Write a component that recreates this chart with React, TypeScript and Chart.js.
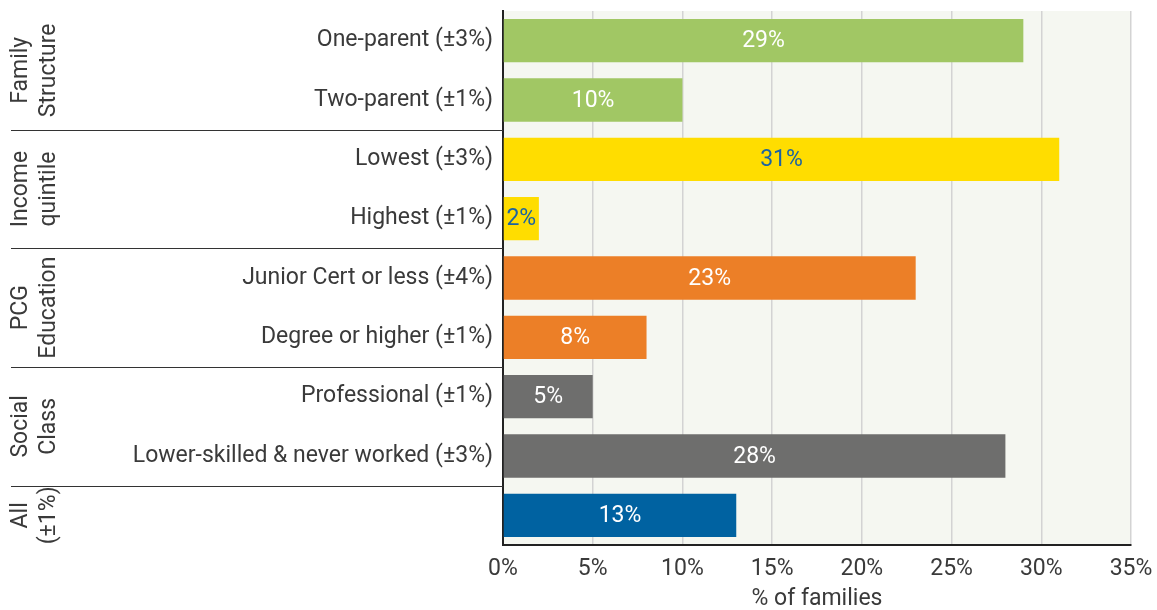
import React, { useEffect, useRef } from 'react';
import { Chart, registerables } from 'chart.js';

Chart.register(...registerables);

const categories = [
  'One-parent (±3%)',
  'Two-parent (±1%)',
  'Lowest (±3%)',
  'Highest (±1%)',
  'Junior Cert or less (±4%)',
  'Degree or higher (±1%)',
  'Professional (±1%)',
  'Lower-skilled & never worked (±3%)',
  '',
];
const values = [29, 10, 31, 2, 23, 8, 5, 28, 13];
const barColors = [
  '#a1c764', '#a1c764',
  '#ffdd00', '#ffdd00',
  '#ec7f27', '#ec7f27',
  '#6e6e6d', '#6e6e6d',
  '#0062a1',
];
const valueLabelColors = [
  '#ffffff', '#ffffff',
  '#1b63a2', '#1b63a2',
  '#ffffff', '#ffffff',
  '#ffffff', '#ffffff',
  '#ffffff',
];
const groupNames = [
  ['Family', 'Structure'],
  ['Income', 'quintile'],
  ['PCG', 'Education'],
  ['Social', 'Class'],
  ['All', '(±1%)'],
];
const groupSizes = [2, 2, 2, 2, 1];
const xMin = 0;
const xMax = 35;
const xStep = 5;
const xTitle = '% of families';

const FONT = 'Roboto';
const FONT_SIZE = 23;
const TEXT = '#3a3a3a';

const decorPlugin = {
  id: 'decor',
  beforeDraw(chart: any) {
    const { ctx, chartArea } = chart;
    ctx.save();
    ctx.fillStyle = '#f5f7f1';
    ctx.fillRect(chartArea.left, chartArea.top, chartArea.right - chartArea.left, chartArea.bottom - chartArea.top);
    ctx.restore();
  },
  afterDraw(chart: any) {
    const { ctx, chartArea } = chart;
    const y = chart.scales.y;
    const half = (y.getPixelForValue(1) - y.getPixelForValue(0)) / 2;
    let idx = 0;
    groupNames.forEach((lines, g) => {
      const start = idx;
      const end = idx + groupSizes[g] - 1;
      idx += groupSizes[g];
      const top = y.getPixelForValue(start) - half;
      const bottom = y.getPixelForValue(end) + half;
      if (g < groupNames.length - 1) {
        ctx.save();
        ctx.strokeStyle = '#333333';
        ctx.lineWidth = 1.2;
        ctx.beginPath();
        ctx.moveTo(11, Math.round(bottom) + 0.5);
        ctx.lineTo(chartArea.left, Math.round(bottom) + 0.5);
        ctx.stroke();
        ctx.restore();
      }
      const cy = (top + bottom) / 2;
      ctx.save();
      ctx.translate(0, cy);
      ctx.rotate(-Math.PI / 2);
      ctx.textAlign = 'center';
      ctx.textBaseline = 'middle';
      ctx.font = `${FONT_SIZE}px ${FONT}`;
      ctx.fillStyle = TEXT;
      lines.forEach((t, i) => ctx.fillText(t, 0, 21 + i * 28));
      ctx.restore();
    });

    const meta = chart.getDatasetMeta(0);
    ctx.save();
    ctx.font = `${FONT_SIZE}px ${FONT}`;
    ctx.textAlign = 'center';
    ctx.textBaseline = 'middle';
    meta.data.forEach((el: any, i: number) => {
      const cx = (el.base + el.x) / 2;
      ctx.fillStyle = valueLabelColors[i];
      ctx.fillText(values[i] + '%', cx, el.y + 1);
    });
    ctx.restore();
  },
};

export default function App() {
  const ref = useRef<HTMLCanvasElement | null>(null);
  useEffect(() => {
    document.body.style.margin = '0';
    const canvas = ref.current;
    if (!canvas) return;
    const chart = new Chart(canvas, {
      type: 'bar',
      data: {
        labels: categories,
        datasets: [
          {
            data: values,
            backgroundColor: barColors,
            borderWidth: 0,
            barPercentage: 0.73,
            categoryPercentage: 1,
          },
        ],
      },
      options: {
        indexAxis: 'y',
        animation: false,
        responsive: false,
        layout: { padding: { top: 11, right: 26, left: 0, bottom: 0 } },
        plugins: { legend: { display: false }, tooltip: { enabled: false } },
        scales: {
          x: {
            min: xMin,
            max: xMax,
            ticks: {
              stepSize: xStep,
              callback: (v: any) => v + '%',
              color: TEXT,
              font: { family: FONT, size: FONT_SIZE },
              padding: 10,
            },
            grid: { color: '#d3d3d3', lineWidth: 1.5, drawTicks: false },
            border: { color: '#222222', width: 2 },
            title: {
              display: true,
              text: xTitle,
              color: TEXT,
              font: { family: FONT, size: FONT_SIZE },
              padding: 0,
            },
            afterFit: (s: any) => {
              s.height = 68;
              s.paddingLeft = 0;
              s.paddingRight = 0;
            },
          },
          y: {
            ticks: {
              color: TEXT,
              font: { family: FONT, size: FONT_SIZE },
              padding: 10,
              autoSkip: false,
            },
            grid: { display: false, drawTicks: false },
            border: { color: '#222222', width: 2 },
            afterFit: (s: any) => {
              s.width = 503;
              s.paddingTop = 0;
              s.paddingBottom = 0;
            },
          },
        },
      },
      plugins: [decorPlugin],
    });
    return () => chart.destroy();
  }, []);
  return (
    <div style={{ position: 'fixed', left: 0, top: 0, width: 1157, height: 613, overflow: 'hidden', background: '#ffffff' }}>
      <canvas ref={ref} width={1157} height={613} />
    </div>
  );
}
